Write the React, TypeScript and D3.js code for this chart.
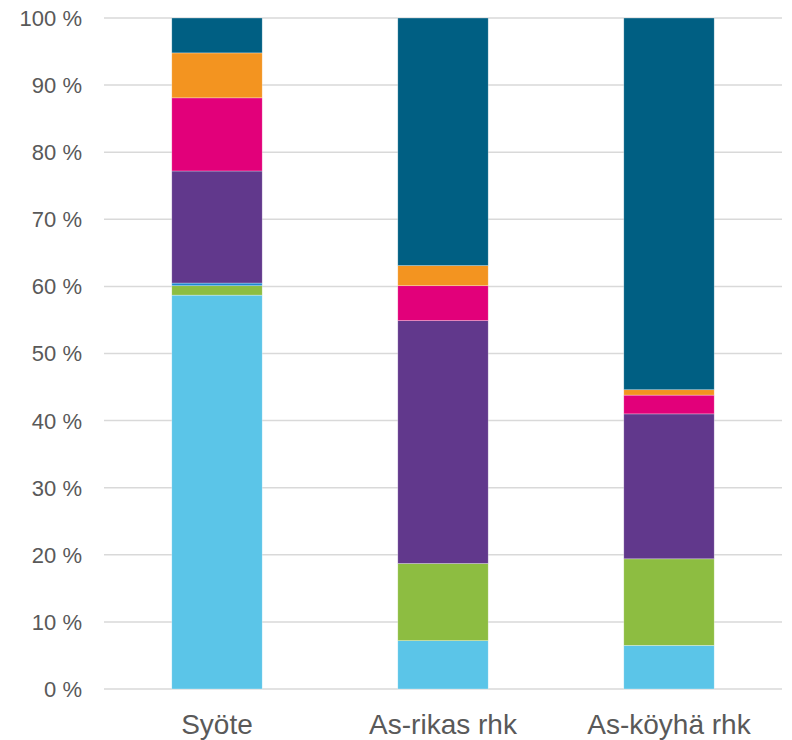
import React from "react";
import * as d3 from "d3";

// Categories and stacked shares (%), bottom to top
const categories = ["Syöte", "As-rikas rhk", "As-köyhä rhk"];
const seriesNames = ["s1", "s2", "s3", "s4", "s5", "s6", "s7"];
const s1 = [58.7, 7.2, 6.5];
const s2 = [1.4, 11.5, 12.9];
const s3 = [0.4, 0.0, 0.0];
const s4 = [16.7, 36.2, 21.6];
const s5 = [10.9, 5.2, 2.8];
const s6 = [6.7, 3.0, 0.8];
const s7 = [5.2, 36.9, 55.4];
const seriesColors = ["#5BC5E8", "#8DBD41", "#1E88D0", "#61388C", "#E2007A", "#F39420", "#005F83"];
const yTicks = [0, 10, 20, 30, 40, 50, 60, 70, 80, 90, 100];

const W = 792;
const H = 740;
const margin = { left: 104, right: 10, top: 18, bottom: 51 };

export default function App() {
  const seriesValues = [s1, s2, s3, s4, s5, s6, s7];
  const rows = categories.map((c, i) => {
    const r: Record<string, any> = { cat: c };
    seriesNames.forEach((n, k) => (r[n] = seriesValues[k][i]));
    return r;
  });
  const stacked = d3.stack().keys(seriesNames)(rows as any);

  const x = d3
    .scaleBand()
    .domain(categories)
    .range([margin.left, W - margin.right])
    .paddingInner(0.6)
    .paddingOuter(0.3);
  const y = d3.scaleLinear().domain([0, 100]).range([H - margin.bottom, margin.top]);

  return (
    <svg
      width={W}
      height={H}
      style={{ position: "absolute", left: 0, top: 0, background: "#fff" }}
      fontFamily="'Liberation Sans', Arial, sans-serif"
    >
      {yTicks.map((t) => (
        <g key={t}>
          <line
            x1={margin.left}
            x2={W - margin.right}
            y1={y(t)}
            y2={y(t)}
            stroke="#d9d9d9"
            strokeWidth={1.5}
          />
          <text
            x={82}
            y={y(t)}
            dy="0.36em"
            textAnchor="end"
            fontSize={22}
            fill="#595959"
          >
            {`${t} %`}
          </text>
        </g>
      ))}
      {stacked.map((layer, k) => (
        <g key={layer.key} fill={seriesColors[k]}>
          {layer.map((d, i) =>
            d[1] - d[0] > 0 ? (
              <rect
                key={i}
                x={x(categories[i])}
                width={x.bandwidth()}
                y={y(d[1])}
                height={y(d[0]) - y(d[1])}
                stroke="#ffffff"
                strokeOpacity={0.5}
                strokeWidth={0.6}
              />
            ) : null
          )}
        </g>
      ))}
      {categories.map((c) => (
        <text
          key={c}
          x={(x(c) as number) + x.bandwidth() / 2}
          y={734}
          textAnchor="middle"
          fontSize={28}
          fill="#595959"
        >
          {c}
        </text>
      ))}
    </svg>
  );
}
